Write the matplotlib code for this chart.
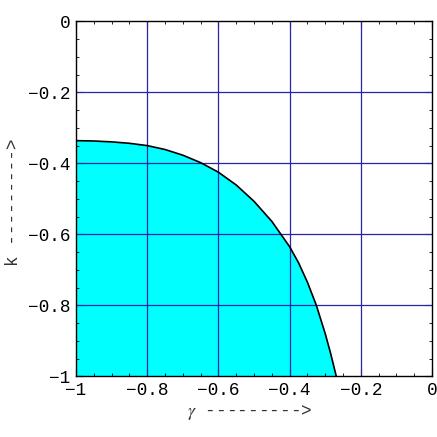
import matplotlib.pyplot as plt
from matplotlib.ticker import MultipleLocator

# boundary of the shaded region
gamma = [-1.0, -0.95, -0.9, -0.85, -0.8, -0.75, -0.7, -0.65, -0.6, -0.55,
         -0.5, -0.45, -0.4, -0.375, -0.35, -0.325, -0.3, -0.285, -0.269]
k = [-0.336, -0.337, -0.3395, -0.3435, -0.350, -0.361, -0.377, -0.398, -0.425, -0.461,
     -0.507, -0.5635, -0.635, -0.680, -0.735, -0.800, -0.880, -0.935, -1.0]

ticks = [-1, -0.8, -0.6, -0.4, -0.2, 0]
tick_labels = ['\u22121', '\u22120.8', '\u22120.6', '\u22120.4', '\u22120.2', '0']

plt.rcParams['font.family'] = ['Liberation Mono', 'DejaVu Sans Mono']
plt.rcParams['mathtext.fontset'] = 'stix'

fig = plt.figure(figsize=(4.37, 4.37), dpi=100)
ax = fig.add_axes([0.174, 0.139, 0.8146, 0.812])

ax.fill_between(gamma, k, -1, color='#00ffff', lw=0, zorder=1)
ax.plot(gamma, k, color='black', lw=1.2, zorder=3, solid_joinstyle='round')

for t in ticks[1:-1]:
    ax.axvline(t, color='#2626a6', lw=0.9, zorder=2)
    ax.axhline(t, color='#2626a6', lw=0.9, zorder=2)

ax.set_xlim(-1, 0)
ax.set_ylim(-1, 0)
ax.set_xticks(ticks)
ax.set_xticklabels(tick_labels)
ax.set_yticks(ticks)
ax.set_yticklabels(tick_labels)
ax.xaxis.set_minor_locator(MultipleLocator(0.05))
ax.yaxis.set_minor_locator(MultipleLocator(0.05))
ax.tick_params(which='both', direction='in', top=True, right=True, labelsize=12.8)
ax.tick_params(which='major', length=5, width=0.8)
ax.tick_params(which='minor', length=2.5, width=0.6)
ax.tick_params(axis='x', pad=4)
ax.tick_params(axis='y', pad=4)
for s in ax.spines.values():
    s.set_linewidth(1.0)

# axis labels placed in figure pixels like the original
fig.text(250 / 437, 1 - 412 / 437, r'$\gamma$ --------->', fontsize=12.8,
         color='#333333', ha='center', va='center')
fig.text(14 / 437, 1 - 202 / 437, 'k --------->', fontsize=12.8,
         color='#333333', ha='center', va='center', rotation=90)

fig.savefig('out.png', dpi=100)
